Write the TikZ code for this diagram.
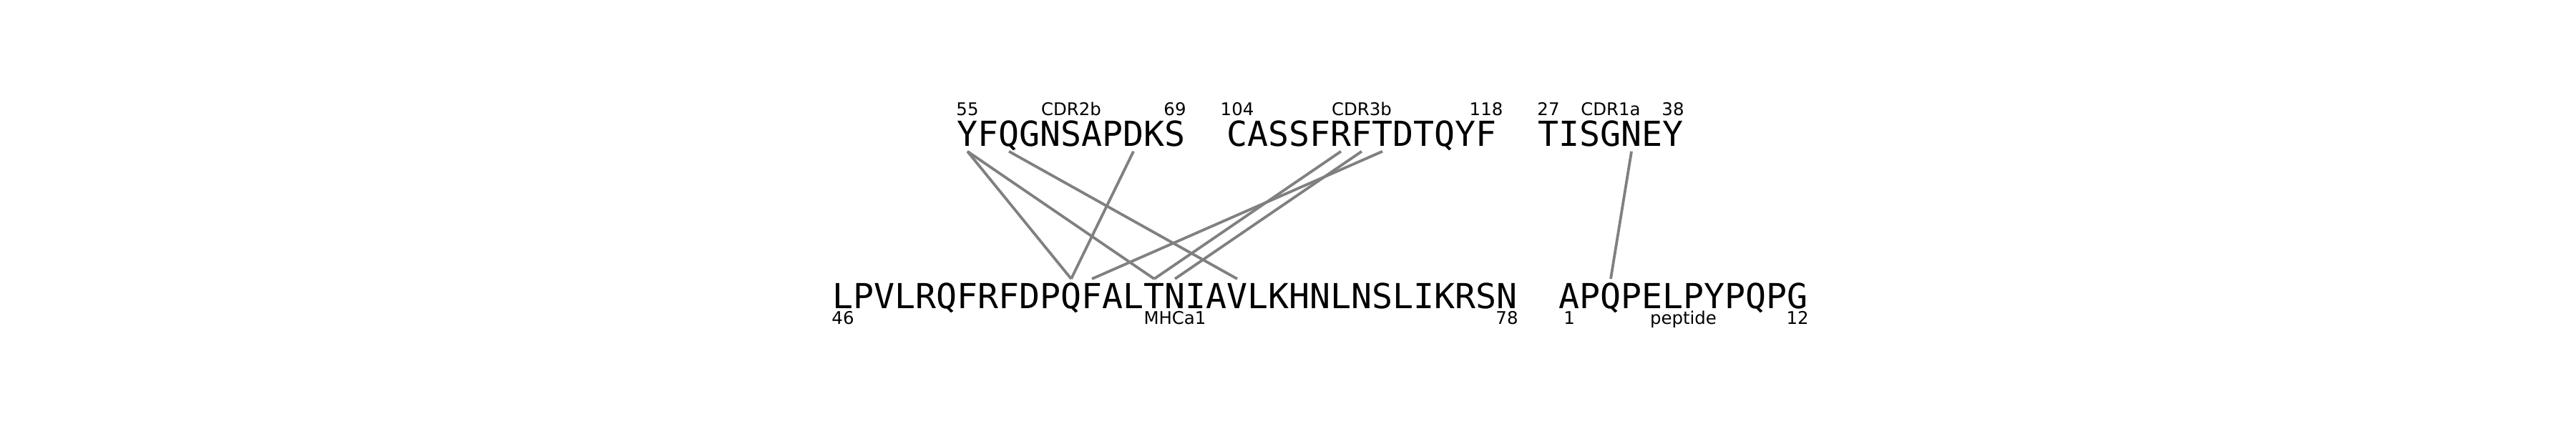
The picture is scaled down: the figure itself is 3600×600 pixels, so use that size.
\documentclass[tikz,border=0pt]{standalone}
\usepackage{fontspec}
\newfontfamily\seqfont{DejaVu Sans Mono}
\newfontfamily\labfont{DejaVu Sans}
\definecolor{linkgray}{RGB}{128,128,128}
\begin{document}
\begin{tikzpicture}[x=0.25pt,y=-0.25pt,
  seq/.style={font=\seqfont\fontsize{12.05pt}{14pt}\selectfont, inner sep=0pt, outer sep=0pt, anchor=base},
  tch/.style={seq, text height=8.75pt, text depth=1.93pt},
  bch/.style={seq, text height=10.25pt, text depth=0pt},
  lab/.style={font=\labfont\fontsize{6.1pt}{7pt}\selectfont, inner sep=0pt, anchor=base},
  link/.style={draw=linkgray, line width=0.95pt}]
\useasboundingbox (0,0) rectangle (3600,600);
% top row
\foreach \c [count=\i from 0] in {Y,F,Q,G,N,S,A,P,D,K,S}
  \node[tch] (t\i) at ({1352+29*\i},204) {\c};
\foreach \c [count=\i from 13] in {C,A,S,S,F,R,F,T,D,T,Q,Y,F}
  \node[tch] (t\i) at ({1352+29*\i},204) {\c};
\foreach \c [count=\i from 28] in {T,I,S,G,N,E,Y}
  \node[tch] (t\i) at ({1352+29*\i},204) {\c};
% bottom row
\foreach \c [count=\i from 0] in {L,P,V,L,R,Q,F,R,F,D,P,Q,F,A,L,T,N,I,A,V,L,K,H,N,L,N,S,L,I,K,R,S,N}
  \node[bch] (b\i) at ({1178+29*\i},431) {\c};
\foreach \c [count=\i from 35] in {A,P,Q,P,E,L,P,Y,P,Q,P,G}
  \node[bch] (b\i) at ({1178+29*\i},431) {\c};
% labels top
\node[lab] (l55) at (t0 |- 0,161) {55};
\node[lab] (lcdr2b) at (1497,161) {CDR2b};
\node[lab] (l69) at (t10 |- 0,161) {69};
\node[lab] (l104) at (t13 |- 0,161) {104};
\node[lab] (lcdr3b) at (1903,161) {CDR3b};
\node[lab] (l118) at (t25 |- 0,161) {118};
\node[lab] (l27) at (t28 |- 0,161) {27};
\node[lab] (lcdr1a) at (2251,161) {CDR1a};
\node[lab] (l38) at (t34 |- 0,161) {38};
% labels bottom
\node[lab] (l46) at (b0 |- 0,453) {46};
\node[lab] (lmhc) at (1642,453) {MHCa1};
\node[lab] (l78) at (b32 |- 0,453) {78};
\node[lab] (l1) at (b35 |- 0,453) {1};
\node[lab] (lpep) at (2352.5,453) {peptide};
\node[lab] (l12) at (b46 |- 0,453) {12};
% links
\draw[link] (t0.south) -- (b11.north);
\draw[link] (t0.south) -- (b15.north);
\draw[link] (t2.south) -- (b19.north);
\draw[link] (t8.south) -- (b11.north);
\draw[link] (t18.south) -- (b15.north);
\draw[link] (t19.south) -- (b16.north);
\draw[link] (t20.south) -- (b12.north);
\draw[link] (t32.south) -- (b37.north);
\end{tikzpicture}
\end{document}
